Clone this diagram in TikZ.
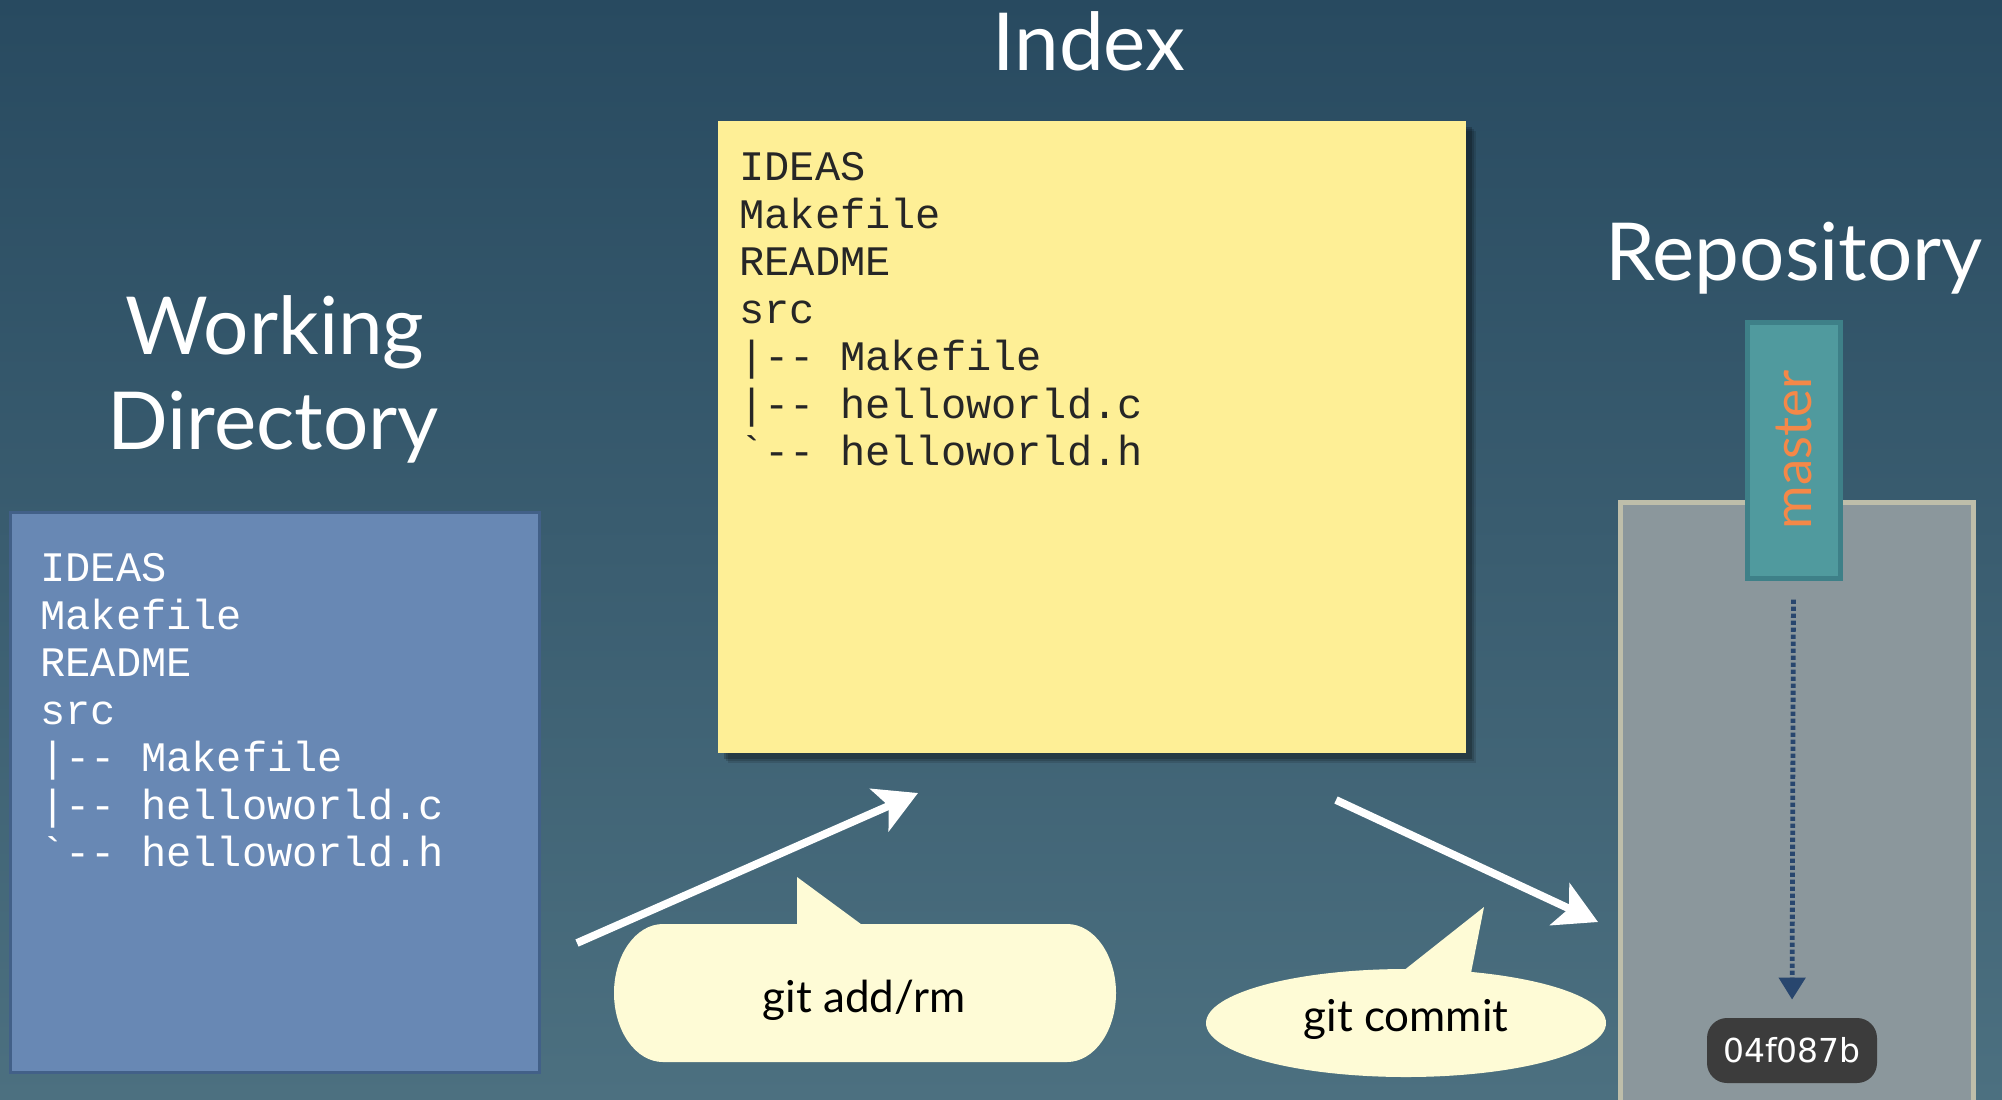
\documentclass[tikz,border=0pt]{standalone}
\usepackage{fontspec}
\setmainfont{Lato}
\setmonofont{Liberation Mono}
\newfontfamily\hashfont{DejaVu Sans}
\usetikzlibrary{arrows.meta,shadows}

\definecolor{bgtop}{RGB}{40,74,96}
\definecolor{bgbot}{RGB}{76,112,128}
\definecolor{wdfill}{RGB}{104,136,180}
\definecolor{wdline}{RGB}{66,96,136}
\definecolor{idxfill}{RGB}{254,239,150}
\definecolor{repofill}{RGB}{139,151,156}
\definecolor{repoline}{RGB}{190,190,170}
\definecolor{mfill}{RGB}{80,154,158}
\definecolor{mline}{RGB}{62,128,136}
\definecolor{mtext}{RGB}{244,136,72}
\definecolor{calfill}{RGB}{254,251,214}
\definecolor{dotblue}{RGB}{40,70,110}
\definecolor{hashfill}{RGB}{60,60,60}

\begin{document}
\begin{tikzpicture}[x=0.5pt,y=-0.5pt,
  titletext/.style={text=white, font=\fontsize{40}{48}\selectfont, inner sep=0pt, anchor=base},
  listing/.style={font=\ttfamily\fontsize{21}{23.75}\selectfont, align=left, anchor=north west, inner sep=0pt},
  calltext/.style={text=black, font=\fontsize{22}{26}\selectfont, inner sep=0pt},
  bigarrow/.style={draw=white, line width=3.9pt, -{Stealth[length=21pt,width=23pt,inset=5pt]}},
  callout/.style={fill=calfill, draw=none},
]
\useasboundingbox (0,0) rectangle (2002,1099);
\clip (0,0) rectangle (2002,1099);
\shade[top color=bgtop, bottom color=bgbot] (0,0) rectangle (2002,1099);

% titles
\node[titletext] (idxtitle) at (1089,70) {Index};
\node[titletext] (wdtitle1) at (275,354) {Working};
\node[titletext] (wdtitle2) at (273,449) {Directory};
\node[titletext] (repotitle) at (1794,280) {Repository};

% working directory
\node[fill=wdfill, draw=wdline, line width=1.5pt, minimum width=264.5pt, minimum height=280pt, inner sep=0pt] (wd) at (274.5,792) {};
\node[listing, text=white] (wdlist) at (40,553) {IDEAS\\Makefile\\README\\src\\|-- Makefile\\|-- helloworld.c\\`-- helloworld.h};

% index
\node[fill=idxfill, minimum width=374pt, minimum height=316pt, inner sep=0pt,
      general shadow={shadow xshift=5pt, shadow yshift=-5pt, fill=black, opacity=0.12},
      general shadow={shadow xshift=4pt, shadow yshift=-4pt, fill=black, opacity=0.15},
      general shadow={shadow xshift=3pt, shadow yshift=-3pt, fill=black, opacity=0.2}] (idx) at (1092,437) {};
\node[listing, text=black!85] (idxlist) at (739,152) {IDEAS\\Makefile\\README\\src\\|-- Makefile\\|-- helloworld.c\\`-- helloworld.h};

% repository
\node[fill=repofill, draw=repoline, line width=2.5pt, minimum width=176.5pt, minimum height=320pt, inner sep=0pt] (repo) at (1796.5,822) {};
\node[fill=mfill, draw=mline, line width=2.5pt, minimum width=46.5pt, minimum height=128pt, inner sep=0pt] (master) at (1793.5,450) {};
\node[text=mtext, rotate=90, font=\fontsize{26.5}{30}\selectfont, inner sep=0pt] (mastertext) at (1793.5,450) {master};
\node[fill=hashfill, rounded corners=10pt, minimum width=85pt, minimum height=32.5pt, inner sep=0pt,
      text=white, font=\hashfont\fontsize{16.5}{20}\selectfont] (commit) at (1792,1050.5) {04f087b};
\draw[dotblue, line width=2.4pt, dash pattern=on 2.2pt off 1.3pt, shorten <=9.5pt, shorten >=9pt,
      -{Triangle[length=11pt,width=13pt]}] (master.south) -- (commit.north);

% arrows
\coordinate (a1s) at (577,943);
\coordinate (a1e) at (918,793);
\coordinate (a2s) at (1336,800);
\coordinate (a2e) at (1598,922);
\draw[bigarrow] (a1s) -- (a1e);
\draw[bigarrow] (a2s) -- (a2e);

% callout 1
\fill[callout] (797,877) -- (797,930) -- (869,930) -- cycle;
\fill[callout] (663,924) -- (1067,924)
   arc[start angle=-90, end angle=90, x radius=49, y radius=69]
   -- (663,1062)
   arc[start angle=90, end angle=270, x radius=49, y radius=69] -- cycle;
\node[calltext] (addtext) at (864,1000) {git add/rm};

% callout 2
\fill[callout] (1484,907) -- (1398,975) -- (1470,978) -- cycle;
\fill[callout] (1406,1023) ellipse[x radius=200, y radius=54];
\node[calltext] (committext) at (1406,1019) {git commit};
\end{tikzpicture}
\end{document}
